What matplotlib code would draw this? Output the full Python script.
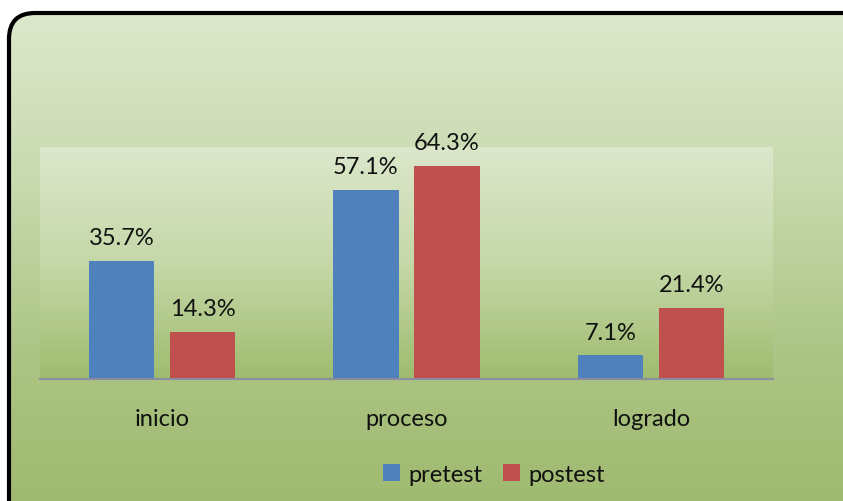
import numpy as np
import matplotlib
matplotlib.use("Agg")
import matplotlib.pyplot as plt
from matplotlib.patches import FancyBboxPatch
from matplotlib.colors import LinearSegmentedColormap

categories = ["inicio", "proceso", "logrado"]
series_names = ["pretest", "postest"]
pretest = [35.7, 57.1, 7.1]
postest = [14.3, 64.3, 21.4]
colors = ["#4F81BD", "#C0504D"]

plt.rcParams['font.family'] = ['Lato', 'DejaVu Sans']
FS = 17

W, H = 843, 502
fig = plt.figure(figsize=(W / 100, H / 100), dpi=100)
fig.patch.set_facecolor("white")

# background axes in pixel coordinates
bg = fig.add_axes([0, 0, 1, 1])
bg.set_xlim(0, W)
bg.set_ylim(H, 0)
bg.axis("off")
grad = np.linspace(0, 1, 256).reshape(-1, 1)
cmap_bg = LinearSegmentedColormap.from_list("bg", ["#DDE8CC", "#C7D9AD", "#ABC484", "#9DB86C"])
box = FancyBboxPatch((9, 14), 860, 520, boxstyle="round,pad=0,rounding_size=26",
                     facecolor="none", edgecolor="black", linewidth=3, zorder=3)
bg.add_patch(box)
im = bg.imshow(grad, cmap=cmap_bg, extent=[9, 869, 534, 14], aspect="auto", zorder=1)
im.set_clip_path(box)

# main axes
x0, x1, y0, y1 = 40, 773, 148, 380
ax = fig.add_axes([x0 / W, 1 - y1 / H, (x1 - x0) / W, (y1 - y0) / H])
ax.set_facecolor("none")
cmap_pa = LinearSegmentedColormap.from_list("pa", ["#DCE7CB", "#C5D8A8", "#9FBB6F"])
ax.imshow(grad, cmap=cmap_pa, extent=[0, 1, 0, 1], aspect="auto",
          transform=ax.transAxes, zorder=0)

x = np.arange(len(categories))
bw = 0.267
off = 0.166
for i, (vals, name) in enumerate(zip([pretest, postest], series_names)):
    pos = x + (-off if i == 0 else off)
    ax.bar(pos, vals, width=bw, color=colors[i], label=name, zorder=2)
    for xi, v in zip(pos, vals):
        ax.text(xi, v + 5.1, f"{v:.1f}%", ha="center", va="baseline",
                fontsize=FS, color="#111111", zorder=3)

ax.set_xlim(-0.5, 2.5)
ax.set_ylim(0, 70)
ax.set_yticks([])
ax.set_xticks(x)
ax.set_xticklabels(categories, fontsize=FS, color="#111111")
ax.tick_params(axis="x", length=0, pad=21)
for s in ["top", "right", "left"]:
    ax.spines[s].set_visible(False)
ax.spines["bottom"].set_color("#8C8CA0")
ax.spines["bottom"].set_linewidth(1.5)
ax.spines["bottom"].set_zorder(4)

fig.legend(loc="center", bbox_to_anchor=(494 / W, 1 - 475 / H), ncol=2,
           frameon=False, fontsize=FS, handlelength=0.7, handleheight=0.7,
           handletextpad=0.35, columnspacing=0.9, labelcolor="#111111")

fig.savefig("out.png", dpi=100)
